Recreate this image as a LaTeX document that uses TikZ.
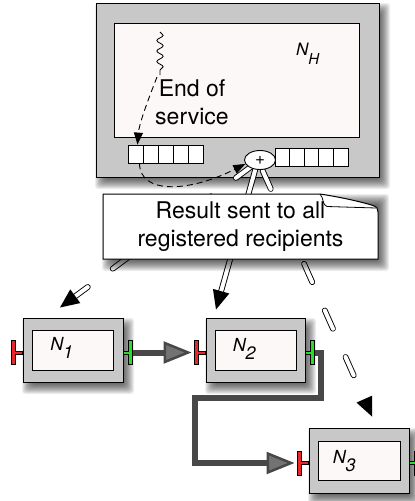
\documentclass[tikz,border=0pt]{standalone}
\usepackage{fontspec}
\setmainfont{TeX Gyre Heros}
\usetikzlibrary{arrows.meta,calc,shapes.geometric,decorations.pathmorphing}

\definecolor{boxgray}{RGB}{200,200,200}
\definecolor{paper}{RGB}{253,248,248}
\definecolor{portred}{RGB}{232,40,40}
\definecolor{portgreen}{RGB}{40,220,40}
\definecolor{wire}{RGB}{72,72,72}
\definecolor{wirefill}{RGB}{115,115,115}

\tikzset{
  outerbox/.style={draw, fill=boxgray, line width=1pt, inner sep=0pt},
  innerbox/.style={draw, fill=paper, line width=0.9pt, inner sep=0pt,
                   minimum width=81pt, minimum height=40pt},
  cell/.style={draw, fill=white, line width=0.8pt, inner sep=0pt,
               minimum width=15pt, minimum height=18pt},
  bigtext/.style={font=\fontsize{23}{28.5}\selectfont, align=center, inner sep=0pt},
  nlabel/.style={font=\fontsize{18}{18}\selectfont\itshape, inner sep=0pt, anchor=base west},
  dbl/.style={draw=black, line width=0.9pt, double=white, double distance=4pt, line cap=round},
  dbldash/.style={dbl, dash pattern=on 20pt off 31pt},
  sigarrow/.style={draw, line width=0.9pt, dash pattern=on 6pt off 4pt,
                   -{Triangle[length=12pt,width=9pt]}},
  wire/.style={draw=wire, line width=6pt, shorten >=3pt,
               -{Triangle[length=28pt,width=22pt,fill=wirefill,line width=2.5pt]}},
}

% soft drop shadow under a box given by its corners
\newcommand\softshadow[4]{%
  \foreach \k in {-6,...,6}{%
    \fill[black, opacity=0.07, rounded corners=3pt]
      ({#1+5-\k},{#2+6-\k}) rectangle ({#3+5+\k},{#4+6+\k});
  }}

% port coordinates of a component box
\newcommand\portcoords[1]{%
  \coordinate (#1-in) at ($(#1.west)+(0,2.5)$);
  \coordinate (#1-inbar) at ($(#1-in)+(-11,0)$);
  \coordinate (#1-outstub) at ($(#1.east)+(0,2.5)$);
  \coordinate (#1-out) at ($(#1-outstub)+(9,0)$);
}
% red input port and green output port
\newcommand\inport[1]{%
  \filldraw[fill=portred, draw=black, line width=0.5pt]
    ($(#1-in)+(0,-1.5)$) -- ++(-7,0) -- ++(0,-10.5) -- ++(-4,0) -- ++(0,24)
    -- ++(4,0) -- ++(0,-10.5) -- ++(7,0) -- cycle;}
\newcommand\outport[1]{%
  \filldraw[fill=portgreen, draw=black, line width=0.5pt]
    ($(#1-outstub)+(0,-1.5)$) -- ++(5,0) -- ++(0,-10.5) -- ++(4,0) -- ++(0,24)
    -- ++(-4,0) -- ++(0,-10.5) -- ++(-5,0) -- cycle;}

% filled black head for the broadcast arrows
\newcommand\headat[2]{%
  \path ($(#2)!19pt!(#1)$) coordinate (hb);
  \fill (#2) -- ($(hb)!8.5pt!90:(#2)$) -- ($(hb)!8.5pt!-90:(#2)$) -- cycle;}

\begin{document}
\begin{tikzpicture}[x=1pt,y=-1pt]
\fill[white] (0,0) rectangle (415,501);
\useasboundingbox (0,0) rectangle (415,501);

% ---- host node N_H ----
\softshadow{96}{3}{379}{177}
\node[outerbox, minimum width=283pt, minimum height=174pt] (NH) at (237.5,90) {};
\node[innerbox, minimum width=245pt, minimum height=114pt] (NHin) at (236.5,80) {};
\node[inner sep=0pt, anchor=base west, font=\fontsize{17}{17}\selectfont\itshape]
  (NHlab) at (296,55) {N\raisebox{-9pt}{\fontsize{15}{15}\selectfont H}};

% queues
\foreach \i in {1,...,5}
  \node[cell] (ql\i) at ({120.5+15*\i},154) {};
\foreach \i in {1,...,5}
  \node[cell, minimum width=14.6pt] (qr\i) at ({267.7+14.6*\i},157) {};

% end-of-service signal
\coordinate (sig0) at (160,32);
\coordinate (sig1) at (160,75);
\draw[line width=0.8pt, decorate,
      decoration={snake, amplitude=3.2pt, segment length=10.5pt}] (sig0) -- (sig1);
\node[bigtext] (eos) at (192,102.5) {End of\\service};
\draw[sigarrow] ($(sig1)+(-3,2)$) .. controls (146,105) and (139,125) .. ($(ql1.north)+(2,0)$);

% ---- components N_1, N_2, N_3 ----
\softshadow{23}{318}{123}{382}
\node[outerbox, minimum width=100pt, minimum height=64pt] (N1) at (73,350) {};
\node[innerbox] (N1in) at (N1) {};
\node[nlabel] (N1lab) at ($(N1in.west)+(18,0)$) {N\raisebox{-8pt}{1}};

\softshadow{206}{318}{305}{382}
\node[outerbox, minimum width=99pt, minimum height=64pt] (N2) at (255.5,350) {};
\node[innerbox] (N2in) at (N2) {};
\node[nlabel] (N2lab) at ($(N2in.west)+(18,1.5)$) {N\raisebox{-8pt}{2}};

\softshadow{309}{428}{409}{493}
\node[outerbox, minimum width=100pt, minimum height=65pt] (N3) at (359,460.5) {};
\node[innerbox, minimum width=82pt, minimum height=39pt] (N3in) at (N3) {};
\node[nlabel] (N3lab) at ($(N3in.west)+(15,2.5)$) {N\raisebox{-8pt}{3}};

\portcoords{N1}
\portcoords{N2}
\portcoords{N3}

% ---- broadcast of the result ----
\coordinate (pc) at (260,160);
\coordinate (s1) at ($(pc)+(-8,6)$);
\coordinate (s2) at ($(pc)+(-4,7)$);
\coordinate (s3) at ($(pc)+(1,7)$);
\coordinate (t1) at ($(N1.north)+(-13,-10)$);
\coordinate (t2) at ($(N2.north)+(-39.5,-8)$);
\coordinate (t3) at ($(N3.north)+(13,-11)$);

\draw[dbldash] (s1) -- ($(t1)!17pt!(s1)$);
\draw[dbl] (s2) -- ($(t2)!17pt!(s2)$);
\draw[dbldash, dash phase=47pt] (s3) -- ($(t3)!17pt!(s3)$);
\headat{s1}{t1}
\headat{s2}{t2}
\headat{s3}{t3}

\node[ellipse, draw, fill=white, line width=0.9pt, minimum width=31pt,
      minimum height=19pt, inner sep=0pt, font=\fontsize{17}{17}\selectfont]
  (plus) at (pc) {+};

\draw[sigarrow] ($(ql1.south)+(4,0)$) .. controls (140,195) and (190,192) .. (plus.195);

% ---- note ----
\softshadow{103}{194}{378}{259}
\filldraw[fill=white, draw=black, line width=1pt]
  (103,194) -- (320,194) .. controls (340,197) and (362,202) .. (373,205.5)
  .. controls (377,207) and (378,209) .. (378,212) -- (378,259) -- (103,259) -- cycle;
\draw[line width=0.8pt] (320,194) .. controls (324,198) and (322,205) .. (327,206.5) -- (376,208);
\node[bigtext] (msg) at (240.5,226.5) {Result sent to all\\registered recipients};

% ---- wiring between components ----
\draw[wire] (N1-out) -- (N2-inbar);
\draw[wire] (N2-out) -- ++(6.5,0) |- ($(N2.west)+(-10.5,47.5)$) |- (N3-inbar);

\inport{N1}\outport{N1}
\inport{N2}\outport{N2}
\inport{N3}\outport{N3}
\end{tikzpicture}
\end{document}
